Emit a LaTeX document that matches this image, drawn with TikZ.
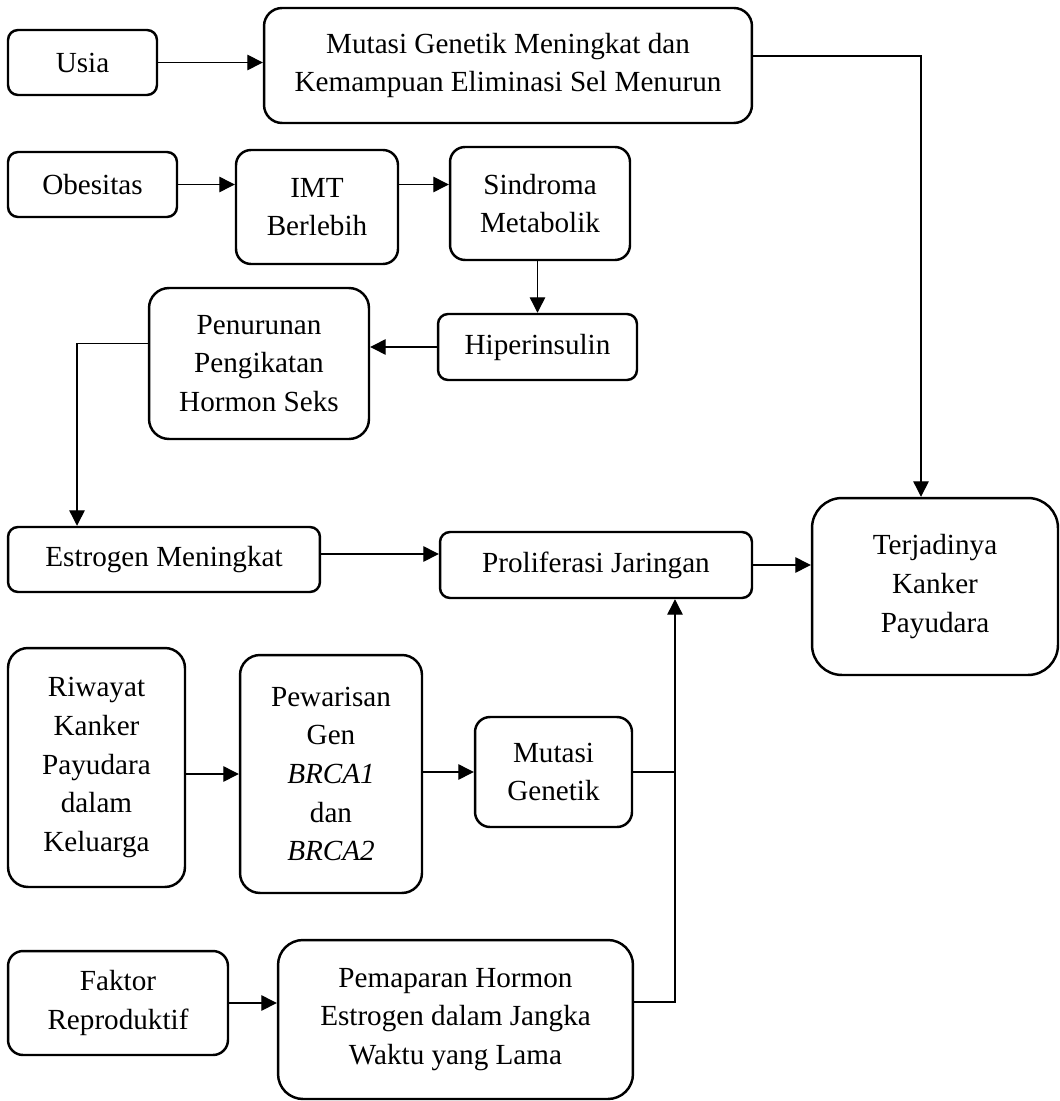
\documentclass[tikz,border=0pt]{standalone}
\usepackage{fontspec}
\setmainfont{Liberation Serif}
\usepackage{tikz}
\usetikzlibrary{arrows.meta}

\begin{document}
\begin{tikzpicture}[x=0.02cm, y=-0.02cm,
  font=\fontsize{16.6}{22}\selectfont,
  box/.style={draw, line width=1.4pt, rounded corners=2mm, align=center, inner sep=1mm},
  arr/.style={-{Triangle[length=3.1mm, width=3.1mm]}, line width=0.75pt},
  lin/.style={line width=0.75pt}]
\useasboundingbox (0,0) rectangle (1060,1101);
% top row
\node[box, minimum width=2.98cm, minimum height=1.30cm] (usia) at (82.5,62.5) {Usia};
\node[box, minimum width=9.76cm, minimum height=2.30cm, rounded corners=3.6mm] (mutasi) at (508,65.5)
  {Mutasi Genetik Meningkat dan\\Kemampuan Eliminasi Sel Menurun};
% obesity chain
\node[box, minimum width=3.38cm, minimum height=1.30cm] (obes) at (92.5,184.5) {Obesitas};
\node[box, minimum width=3.24cm, minimum height=2.28cm, rounded corners=3mm] (imt) at (317,207) {IMT\\Berlebih};
\node[box, minimum width=3.60cm, minimum height=2.26cm, rounded corners=3mm] (sindrom) at (540,203.5) {Sindroma\\Metabolik};
\node[box, minimum width=3.98cm, minimum height=1.32cm] (hiper) at (537.5,347) {Hiperinsulin};
\node[box, minimum width=4.40cm, minimum height=3.02cm, rounded corners=4mm] (turun) at (259,363.5)
  {Penurunan\\Pengikatan\\Hormon Seks};
\node[box, minimum width=6.24cm, minimum height=1.30cm] (estro) at (164,559.5) {Estrogen Meningkat};
\node[box, minimum width=6.24cm, minimum height=1.32cm] (prolif) at (596,565) {Proliferasi Jaringan};
\node[box, minimum width=4.92cm, minimum height=3.54cm, rounded corners=6mm] (kanker) at (935,586.5)
  {Terjadinya\\Kanker\\Payudara};
% genetic chain
\node[box, minimum width=3.54cm, minimum height=4.78cm, rounded corners=4mm] (riwayat) at (96.5,767.5)
  {Riwayat\\Kanker\\Payudara\\dalam\\Keluarga};
\node[box, minimum width=3.64cm, minimum height=4.76cm, rounded corners=4mm] (waris) at (331,774)
  {Pewarisan\\Gen\\\textit{BRCA1}\\dan\\\textit{BRCA2}};
\node[box, minimum width=3.14cm, minimum height=2.20cm, rounded corners=3mm] (mutgen) at (553.5,772) {Mutasi\\Genetik};
% reproductive chain
\node[box, minimum width=4.40cm, minimum height=2.08cm, rounded corners=3mm] (faktor) at (118,1003) {Faktor\\Reproduktif};
\node[box, minimum width=7.10cm, minimum height=3.18cm, rounded corners=5mm] (pajan) at (455.5,1019.5)
  {Pemaparan Hormon\\Estrogen dalam Jangka\\Waktu yang Lama};

\coordinate (m1) at ([yshift=0.19cm]mutasi.east);
\coordinate (k1) at ([xshift=-0.28cm]kanker.north);
\coordinate (t1) at ([yshift=0.4cm]turun.west);
\coordinate (e0) at ([xshift=-1.74cm]estro.north);
\coordinate (e1) at ([yshift=0.11cm]estro.east);
\coordinate (p1) at ([xshift=1.58cm]prolif.south);
\coordinate (p2) at ([yshift=0.35cm]pajan.east);

\draw[arr] (usia.east) -- (usia.east -| mutasi.west);
\draw[arr] (m1) -| (k1);
\draw[arr] (obes.east) -- (obes.east -| imt.west);
\draw[arr] (imt.east |- obes) -- (sindrom.west |- obes);
\draw[arr] (sindrom.south -| hiper.north) -- (hiper.north);
\draw[arr] (hiper.west) -- (hiper.west -| turun.east);
\draw[arr] (t1) -| (e0);
\draw[arr] (e1) -- (e1 -| prolif.west);
\draw[arr] (prolif.east) -- (prolif.east -| kanker.west);
\draw[arr] (waris.west -| riwayat.east) -- (waris.west);
\draw[arr] (waris.east |- mutgen) -- (mutgen.west);
\draw[lin] (mutgen.east) -- (mutgen.east -| p1);
\draw[arr] (faktor.east) -- (faktor.east -| pajan.west);
\draw[arr] (p2) -| (p1);
\end{tikzpicture}
\end{document}
